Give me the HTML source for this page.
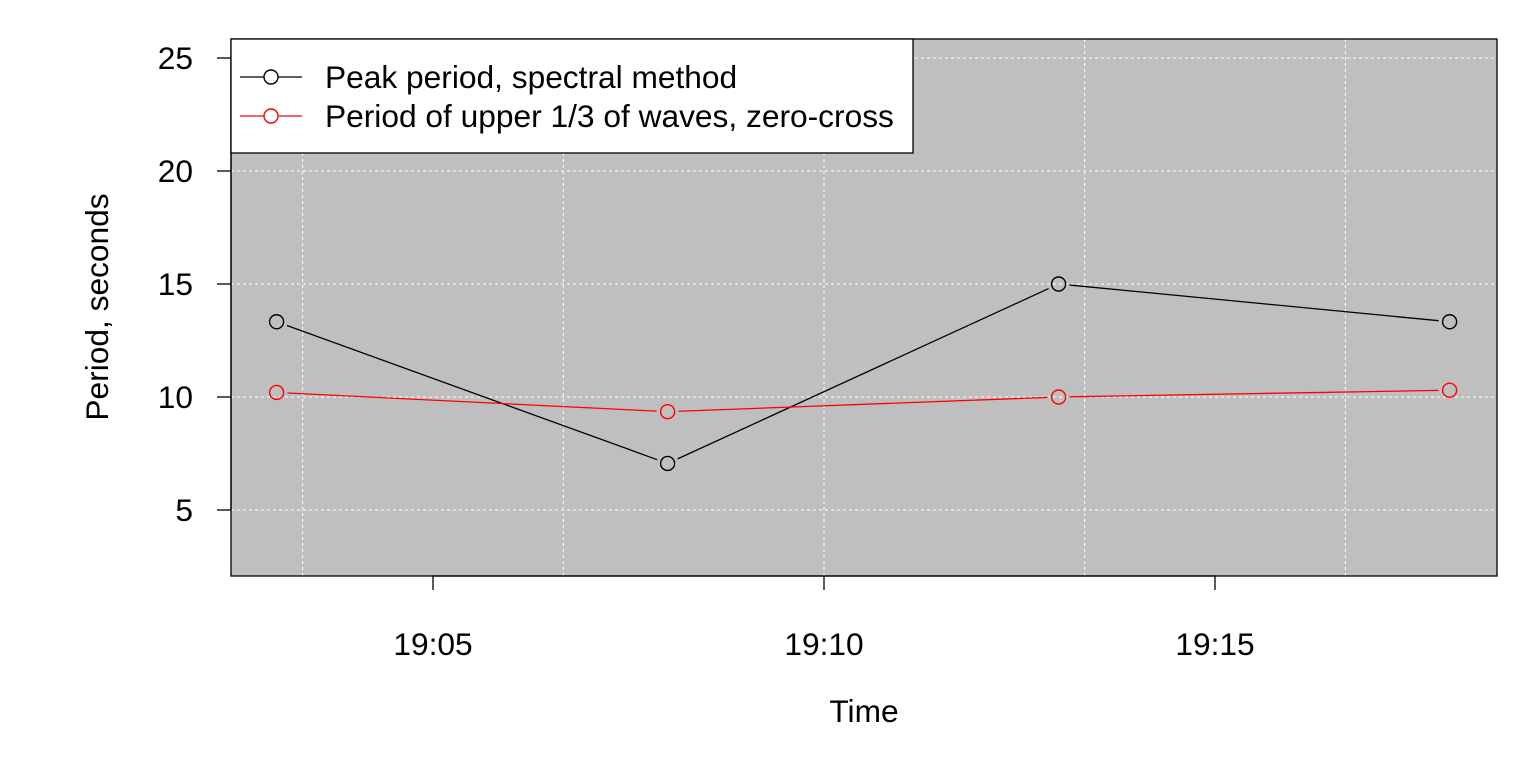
<!DOCTYPE html>
<html><head><meta charset="utf-8"><style>
body{margin:0;background:#fff;}
svg text{font-family:"Liberation Sans",Arial,sans-serif;}
</style></head><body>
<svg id="chart" width="1536" height="768" xmlns="http://www.w3.org/2000/svg"></svg>
<script>
const timesMin = [183, 188, 193, 198]; // minutes after 16:00 -> 19:03 etc
const peakPeriod = [13.33, 7.06, 15.0, 13.33];
const upperThirdPeriod = [10.2, 9.35, 10.0, 10.3];
const yTicks = [5, 10, 15, 20, 25];
const xTicks = [185, 190, 195];
const xTickLabels = ["19:05", "19:10", "19:15"];
const xGrid = [183.333, 186.667, 190, 193.333, 196.667];

const L=231,R=1497,T=39,B=576;
const FS=31.7;
const xs = m => 433 + (m-185)*78.2;
const ys = v => 397 - (v-10)*22.6;
const svg=document.getElementById('chart');
const NS="http://www.w3.org/2000/svg";
function mk(tag,attrs,parent){const e=document.createElementNS(NS,tag);for(const k in attrs)e.setAttribute(k,attrs[k]);(parent||svg).appendChild(e);return e;}

let bg=mk('rect',{x:L,y:T,width:R-L,height:B-T,fill:'#bfbfbf'});


yTicks.forEach(v=>{let g=mk('line',{x1:L,x2:R,y1:ys(v),y2:ys(v),stroke:'#fff','stroke-dasharray':'3,3','stroke-width':1});

});
xGrid.forEach(m=>{let g=mk('line',{x1:xs(m),x2:xs(m),y1:T,y2:B,stroke:'#fff','stroke-dasharray':'3,3','stroke-width':1});

});

function series(vals,color,name){
  const pts=timesMin.map((m,i)=>[xs(m),ys(vals[i])]);
  for(let i=0;i<pts.length-1;i++){
    const [x1,y1]=pts[i],[x2,y2]=pts[i+1];const d=Math.hypot(x2-x1,y2-y1);const r=11;
    const ux=(x2-x1)/d,uy=(y2-y1)/d;
    let s=mk('line',{x1:x1+ux*r,y1:y1+uy*r,x2:x2-ux*r,y2:y2-uy*r,stroke:color,'stroke-width':1.3});
    
    
  }
  pts.forEach(p=>{let c=mk('circle',{cx:p[0],cy:p[1],r:7,fill:'none',stroke:color,'stroke-width':1.4});
  
  });
}
series(peakPeriod,'#000','peak-period');
series(upperThirdPeriod,'#ff0000','upper-third-period');

let fr=mk('rect',{x:L,y:T,width:R-L,height:B-T,fill:'none',stroke:'#000','stroke-width':1.3});



let ya=mk('line',{x1:L,x2:L,y1:ys(5),y2:ys(25),stroke:'#000','stroke-width':1.3});


yTicks.forEach(v=>{mk('line',{x1:L-14,x2:L,y1:ys(v),y2:ys(v),stroke:'#000','stroke-width':1.3});
let t=mk('text',{x:193,y:ys(v)+11,'font-size':FS,'text-anchor':'end'});t.textContent=v;

});
let xa=mk('line',{x1:xs(185),x2:xs(195),y1:B,y2:B,stroke:'#000','stroke-width':1.3});


xTicks.forEach((m,i)=>{mk('line',{x1:xs(m),x2:xs(m),y1:B,y2:B+14,stroke:'#000','stroke-width':1.3});
let t=mk('text',{x:xs(m),y:655,'font-size':FS,'text-anchor':'middle'});t.textContent=xTickLabels[i];

});

let xt=mk('text',{x:864,y:722,'font-size':FS,'text-anchor':'middle'});xt.textContent='Time';


let yt=mk('text',{x:108,y:307,'font-size':FS,'text-anchor':'middle',transform:'rotate(-90 108 307)'});yt.textContent='Period, seconds';



let lg=mk('g',{});


mk('rect',{x:L,y:T,width:682,height:114,fill:'#fff',stroke:'#000','stroke-width':1.3},lg);
[['#000','Peak period, spectral method',77],['#ff0000','Period of upper 1/3 of waves, zero-cross',116]].forEach(([c,txt,y])=>{
  let e=mk('g',{},lg);
  
  
  mk('line',{x1:240,x2:302,y1:y,y2:y,stroke:c,'stroke-width':1.3},e);
  mk('circle',{cx:271,cy:y,r:7,fill:'#fff',stroke:c,'stroke-width':1.4},e);
  let t=mk('text',{x:325,y:y+11,'font-size':FS},e);t.textContent=txt;
});
</script>
</body></html>
